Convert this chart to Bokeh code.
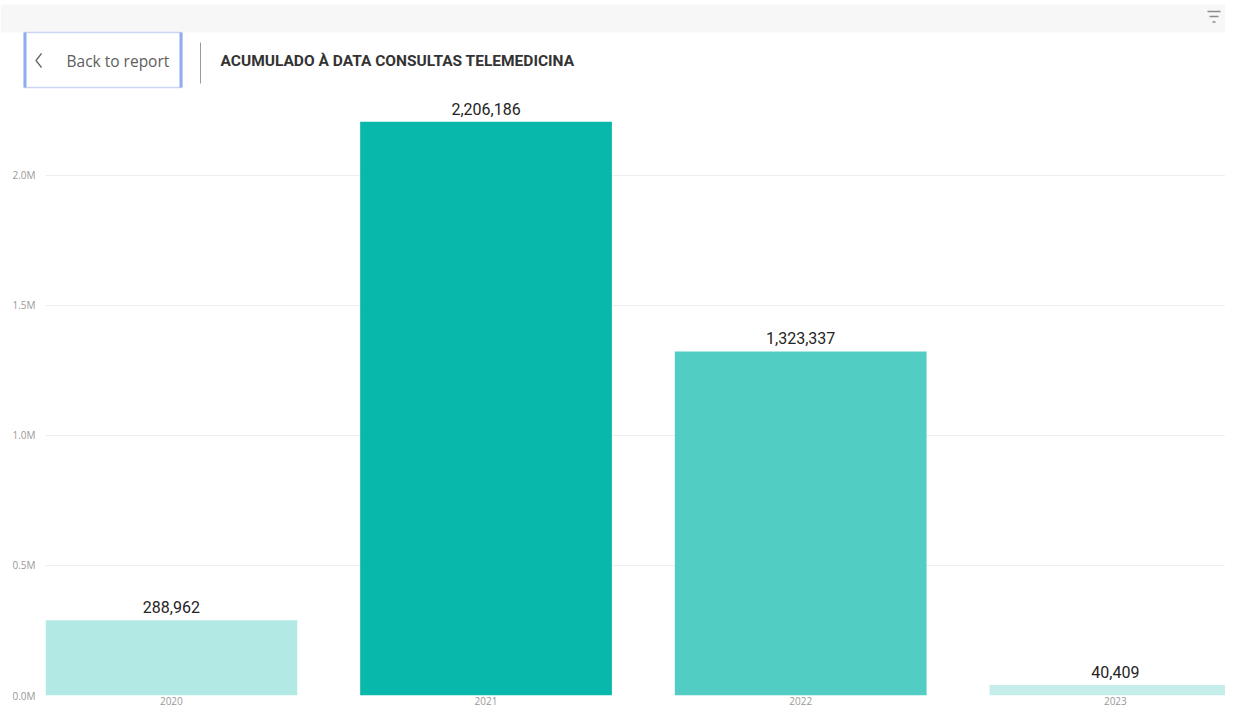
from bokeh.plotting import figure
from bokeh.layouts import column
from bokeh.models import Range1d, FixedTicker, CustomJSTickFormatter, ColumnDataSource
from bokeh.core.properties import value
from bokeh.embed import file_html
from bokeh.resources import INLINE

# ---- data ----
years = ["2020", "2021", "2022", "2023"]
consultas = [288962, 2206186, 1323337, 40409]
bar_colors = ["#b3e9e4", "#08b9ab", "#52cdc4", "#c5eeeb"]
y_ticks = [0, 500000, 1000000, 1500000, 2000000]
title_text = "ACUMULADO À DATA CONSULTAS TELEMEDICINA"
back_text = "Back to report"

W = 1225
HEAD_H = 92

# ---- header (Power BI style focus-mode bar) ----
head = figure(width=W, height=HEAD_H, output_backend="svg", toolbar_location=None,
              x_range=Range1d(0, W), y_range=Range1d(HEAD_H, 0),
              x_axis_location=None, y_axis_location=None,
              min_border=0, min_border_left=0, min_border_right=0,
              min_border_top=0, min_border_bottom=0)
head.frame_align = False
head.grid.visible = False
head.outline_line_color = None
head.background_fill_color = "white"
head.border_fill_color = "white"

# top gray strip
head.quad(left=[0], right=[W], top=[4], bottom=[32], fill_color="#f7f7f7", line_color=None)
# filter icon
head.segment(x0=[1207, 1209, 1212], y0=[11, 16, 21.5], x1=[1220, 1218, 1215], y1=[11, 16, 21.5],
             line_color="#8a8a8a", line_width=1.3)
# back button
head.quad(left=[24], right=[181], top=[32], bottom=[87], fill_color="white",
          line_color="#c9d7f5", line_width=1.5)
head.segment(x0=[24.5, 180.5], y0=[32, 32], x1=[24.5, 180.5], y1=[87, 87],
             line_color="#8fadee", line_width=3)
head.line(x=[41, 35.5, 41], y=[53, 60, 67], line_color="#666666", line_width=1.3)
head.text(x=[66], y=[60], text=[back_text], text_font=value("Open Sans"),
          text_font_size="15.5px", text_color="#605e5c", text_baseline="middle", text_align="left")
# separator
head.segment(x0=[200], y0=[42], x1=[200], y1=[83], line_color="#9a9a9a", line_width=1)
# title
head.text(x=[220], y=[60], text=[title_text], text_font=value("Roboto"),
          text_font_size="15.5px", text_font_style="bold", text_color="#333333",
          text_baseline="middle", text_align="left")

# ---- main chart ----
xs = [i + 0.5 for i in range(len(years))]
labels = [f"{v:,}" for v in consultas]
src = ColumnDataSource(dict(x=xs, top=consultas, color=bar_colors, label=labels))

MAIN_H = 707 - HEAD_H
p = figure(width=W, height=MAIN_H, output_backend="svg", toolbar_location=None,
           x_range=Range1d(0.1, 3.85), y_range=Range1d(0, 2319000),
           min_border_left=45, min_border_right=0, min_border_top=0, min_border_bottom=0)
p.frame_align = False
p.outline_line_color = None
p.background_fill_color = "white"
p.border_fill_color = "white"

p.vbar(x="x", top="top", width=0.8, fill_color="color", line_color=None, source=src)
p.text(x="x", y="top", text="label", source=src, y_offset=-7,
       text_font=value("Roboto"), text_font_size="16px", text_color="#252423",
       text_align="center", text_baseline="bottom")

p.yaxis.ticker = FixedTicker(ticks=y_ticks)
p.yaxis.formatter = CustomJSTickFormatter(code="return (tick/1e6).toFixed(1) + 'M';")
p.xaxis.ticker = FixedTicker(ticks=xs)
p.xaxis.major_label_overrides = {x: y for x, y in zip(xs, years)}

for ax in (p.xaxis, p.yaxis):
    ax.axis_line_color = None
    ax.major_tick_line_color = None
    ax.minor_tick_line_color = None
    ax.major_tick_out = 0
    ax.major_tick_in = 0
    ax.minor_tick_out = 0
    ax.minor_tick_in = 0
    ax.major_label_text_font = "Open Sans"
    ax.major_label_text_font_size = "10px"
    ax.major_label_text_color = "#999999"
p.yaxis.major_label_standoff = 10
p.xaxis.major_label_standoff = 1

p.xgrid.visible = False
p.ygrid.grid_line_color = "#eeeeee"
p.ygrid.grid_line_width = 1

layout = column(head, p, spacing=0)
open("out.html", "w").write(file_html(layout, INLINE))
